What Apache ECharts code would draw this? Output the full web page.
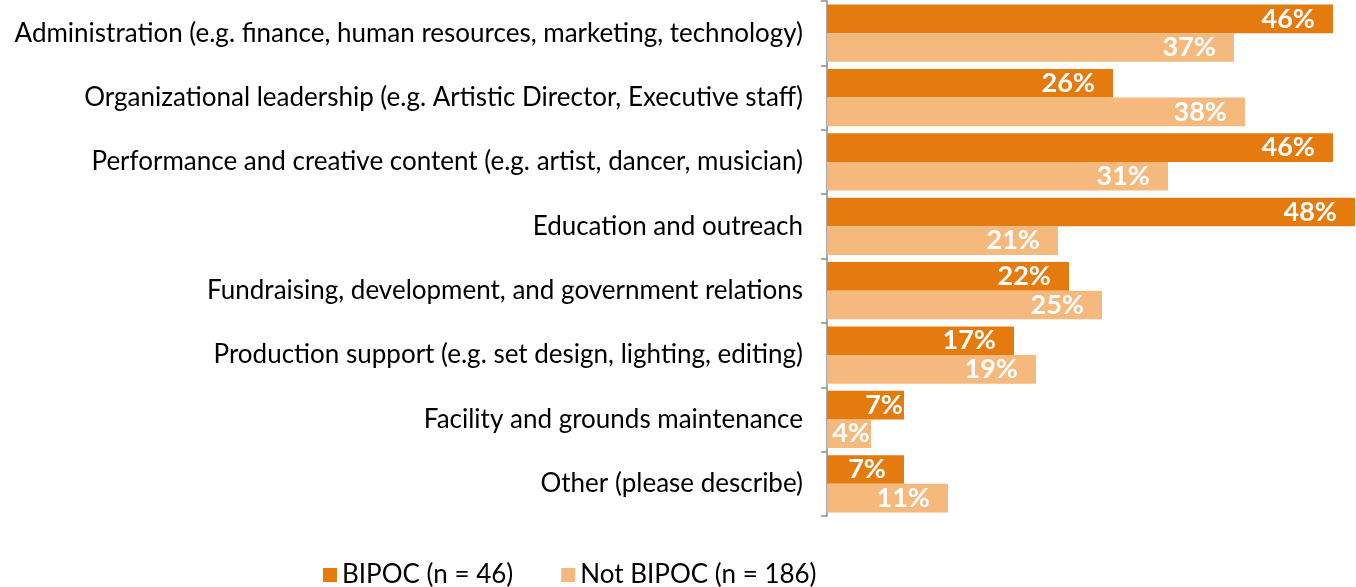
<!DOCTYPE html>
<html>
<head>
<meta charset="utf-8">
<script src="https://cdn.jsdelivr.net/npm/echarts@6/dist/echarts.min.js"></script>
<style>
  html, body { margin: 0; padding: 0; background: #fff; }
  #chart { width: 1356px; height: 587px; }
</style>
</head>
<body>
<div id="chart"></div>
<script>
// Staff roles by group (share of respondents)
var categories = [
  'Administration (e.g. finance, human resources, marketing, technology)',
  'Organizational leadership (e.g. Artistic Director, Executive staff)',
  'Performance and creative content (e.g. artist, dancer, musician)',
  'Education and outreach',
  'Fundraising, development, and government relations',
  'Production support (e.g. set design, lighting, editing)',
  'Facility and grounds maintenance',
  'Other (please describe)'
];
var seriesNames = ['BIPOC (n = 46)', 'Not BIPOC (n = 186)'];
var bipoc = [46, 26, 46, 48, 22, 17, 7, 7];
var notBipoc = [37, 38, 31, 21, 25, 19, 4, 11];

var FONT = 'Lato, "Open Sans", sans-serif';
var DARK = '#E57A0F';
var LIGHT = '#F5B87D';
var TIGHT_ROW = 'Facility and grounds maintenance';

// labels in the shortest row sit right against the bar end
function toData(values) {
  return values.map(function (v, i) {
    var item = { value: v };
    if (categories[i] === TIGHT_ROW) {
      item.label = { distance: 1 };
    }
    return item;
  });
}

var labelStyle = {
  show: true,
  position: 'insideRight',
  distance: 18,
  color: '#fff',
  fontFamily: FONT,
  fontWeight: 'bold',
  fontSize: 27,
  formatter: '{c}%'
};

var chart = echarts.init(document.getElementById('chart'), null, { renderer: 'canvas' });
chart.setOption({
  animation: false,
  textStyle: { fontFamily: FONT },
  legend: {
    left: 318,
    top: 557,
    itemWidth: 14,
    itemHeight: 14,
    itemGap: 48,
    icon: 'rect',
    textStyle: { fontSize: 26, color: '#000', fontFamily: FONT },
    data: seriesNames
  },
  grid: { left: 827, right: 1, top: 1, height: 515, containLabel: false },
  xAxis: {
    type: 'value',
    min: 0,
    max: 48,
    show: false
  },
  yAxis: {
    type: 'category',
    inverse: true,
    data: categories,
    axisLine: { show: true, lineStyle: { color: '#8c8c8c', width: 1.5 } },
    axisTick: { show: true, length: 6, lineStyle: { color: '#8c8c8c', width: 1.5 } },
    axisLabel: { margin: 24, fontSize: 26, color: '#000', fontFamily: FONT }
  },
  series: [
    {
      name: seriesNames[0],
      type: 'bar',
      data: toData(bipoc),
      itemStyle: { color: DARK },
      barGap: '0%',
      barCategoryGap: '11%',
      label: labelStyle
    },
    {
      name: seriesNames[1],
      type: 'bar',
      data: toData(notBipoc),
      itemStyle: { color: LIGHT },
      barGap: '0%',
      barCategoryGap: '11%',
      label: labelStyle
    }
  ]
});
</script>
</body>
</html>
